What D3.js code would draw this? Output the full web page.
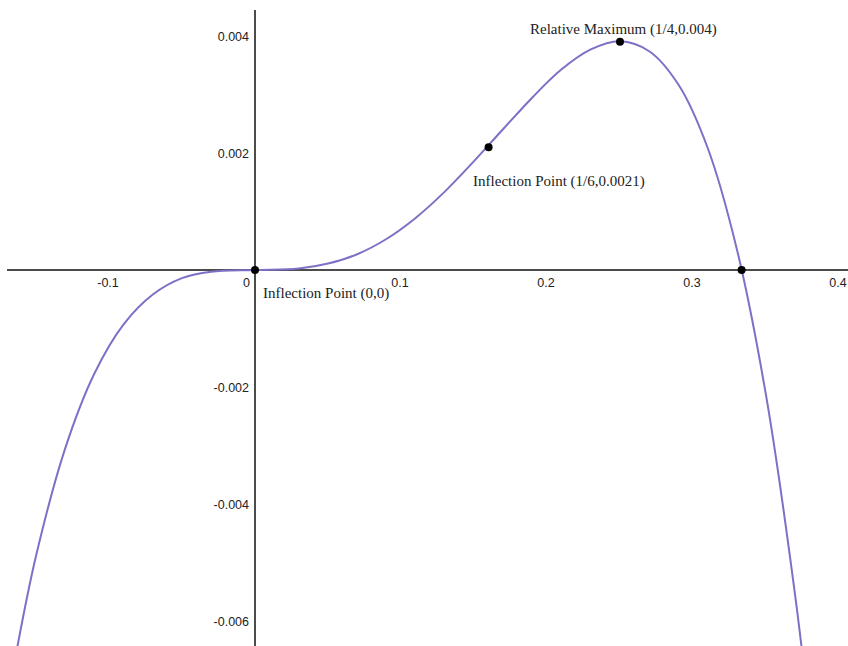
<!DOCTYPE html>
<html>
<head>
<meta charset="utf-8">
<script src="https://cdn.jsdelivr.net/npm/d3@7"></script>
<style>
  body { margin: 0; background: #fff; }
  svg { display: block; }
</style>
</head>
<body>
<svg id="chart"></svg>
<script>
const width = 848, height = 646

// curve samples
const curveX = [-0.165, -0.15, -0.13, -0.11, -0.09, -0.07, -0.05, -0.03, 0, 0.03, 0.05, 0.07, 0.09,
                0.11, 0.13, 0.15, 0.17, 0.19, 0.21, 0.23, 0.25, 0.27, 0.29, 0.31, 0.33, 0.35, 0.37, 0.38]
const curveY = [-0.00674, -0.00489, -0.00305, -0.00177, -0.00093, -0.00042, -0.00014, -0.00003, 0, 0.000025, 0.00011, 0.00027, 0.00053,
                0.00089, 0.00134, 0.00186, 0.00241, 0.00295, 0.00343, 0.00377, 0.00391, 0.00374, 0.00317, 0.00209, 0.00036, -0.00214, -0.00557, -0.00768]

// marked points
const pointX = [0, 0.16, 0.25, 0.3333]
const pointY = [0, 0.0021, 0.0039, 0]

const labels = ["Inflection Point (0,0)", "Inflection Point (1/6,0.0021)", "Relative Maximum (1/4,0.004)"]
const labelX = [0, 0.16, 0.25]
const labelY = [0, 0.0021, 0.0039]

const xTicks = [-0.1, 0, 0.1, 0.2, 0.3, 0.4]
const yTicks = [0.004, 0.002, -0.002, -0.004, -0.006]

let svg = d3.select("#chart")
    .attr("width", width)
    .attr("height", height)

let x = d3.scaleLinear().domain([0, 0.1]).range([255, 401])
let y = d3.scaleLinear().domain([0, 0.002]).range([270, 153])

// axes lines
svg.append("line")
    .attr("x1", 7).attr("x2", width)
    .attr("y1", y(0)).attr("y2", y(0))
    .attr("stroke", "#111").attr("stroke-width", 1.5)

svg.append("line")
    .attr("x1", x(0)).attr("x2", x(0))
    .attr("y1", 10).attr("y2", height)
    .attr("stroke", "#111").attr("stroke-width", 1.5)

// tick labels
svg.append("g")
    .attr("font-family", "'Liberation Sans', Arial, sans-serif")
    .attr("font-size", "12.5px")
    .attr("fill", "#222")
    .selectAll("text")
    .data(xTicks)
    .enter()
    .append("text")
    .attr("x", d => d == 0 ? x(0) - 5 : x(d) - 1)
    .attr("y", y(0) + 17)
    .attr("text-anchor", d => d == 0 ? "end" : "middle")
    .text(d => d3.format("")(d).replace("−", "-"))

svg.append("g")
    .attr("font-family", "'Liberation Sans', Arial, sans-serif")
    .attr("font-size", "12.5px")
    .attr("fill", "#222")
    .selectAll("text")
    .data(yTicks)
    .enter()
    .append("text")
    .attr("x", x(0) - 6)
    .attr("y", d => y(d) + 4.5)
    .attr("text-anchor", "end")
    .text(d => d3.format(".3f")(d).replace("−", "-"))

// curve
let data = curveX.map((d, i) => ({x: d, y: curveY[i]}))
let line = d3.line()
    .x(d => x(d.x))
    .y(d => y(d.y))
    .curve(d3.curveCatmullRom)

svg.append("path")
    .datum(data)
    .attr("fill", "none")
    .attr("stroke", "#7f6fc6")
    .attr("stroke-width", 2)
    .attr("d", line)

// points
svg.append("g")
    .selectAll("circle")
    .data(pointX.map((d, i) => ({x: d, y: pointY[i]})))
    .enter()
    .append("circle")
    .attr("cx", d => x(d.x))
    .attr("cy", d => y(d.y))
    .attr("r", 4)
    .attr("fill", "#000")

// annotations
let offs = [[8, 28], [-15.5, 39], [-90, -8]]
svg.append("g")
    .attr("font-family", "'Liberation Serif', 'Times New Roman', serif")
    .attr("font-size", "15px")
    .attr("fill", "#222")
    .selectAll("text")
    .data(labels)
    .enter()
    .append("text")
    .attr("x", (d, i) => x(labelX[i]) + offs[i][0])
    .attr("y", (d, i) => y(labelY[i]) + offs[i][1])
    .text(d => d)
</script>
</body>
</html>
